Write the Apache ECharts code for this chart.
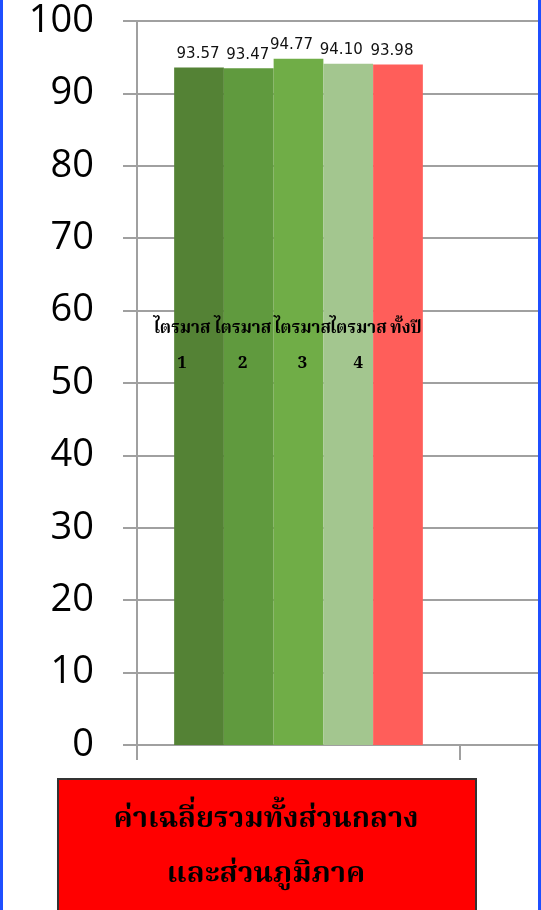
<!DOCTYPE html>
<html>
<head>
<meta charset="utf-8">
<style>
  html, body { margin: 0; padding: 0; background: #fff; }
  #chart { width: 541px; height: 910px; }
</style>
<script src="https://cdn.jsdelivr.net/npm/echarts@6/dist/echarts.min.js"></script>
</head>
<body>
<div id="chart"></div>
<script>
// ---- data ----
const categories = ['ค่าเฉลี่ยรวม', ''];
const seriesNames = ['ไตรมาส\n1', 'ไตรมาส\n2', 'ไตรมาส\n3', 'ไตรมาส\n4', 'ทั้งปี'];
const seriesValues = [93.57, 93.47, 94.77, 94.10, 93.98];
const yTicks = [0, 10, 20, 30, 40, 50, 60, 70, 80, 90, 100];
const boxTitle = 'ค่าเฉลี่ยรวมทั้งส่วนกลาง\nและส่วนภูมิภาค';

// ---- style ----
const colors = ['#548235', '#609a3e', '#70ad47', '#a3c68f', '#ff5e5a'];
const nameOffsets = [[-17, 0], [-6, 0], [4, 0], [10, 0], [8, 0]];
const valueOffsets = [[-1, 0], [-1, 0], [-7, 0], [-7, 0], [-6, 0]];
const nameAnchorValue = 60;
const thaiFont = '"Noto Serif Thai", "Noto Sans Thai", "Tlwg Typo", "Garuda", serif';

const chart = echarts.init(document.getElementById('chart'), null, { renderer: 'canvas' });

const series = seriesValues.map((v, i) => ({
  name: seriesNames[i],
  type: 'bar',
  data: [v, null],
  barGap: '0%',
  barCategoryGap: '23%',
  itemStyle: { color: colors[i] },
  label: {
    show: true,
    position: 'top',
    distance: 6,
    offset: valueOffsets[i],
    formatter: p => p.value.toFixed(2),
    color: '#111',
    fontFamily: '"DejaVu Sans", sans-serif',
    fontSize: 15
  },
  markPoint: {
    symbol: 'circle',
    symbolSize: 0,
    silent: true,
    data: [{ coord: [0, nameAnchorValue], value: seriesNames[i] }],
    label: {
      show: true,
      position: 'inside',
      verticalAlign: 'top',
      offset: [nameOffsets[i][0], 2],
      formatter: () => seriesNames[i],
      color: '#000',
      fontFamily: thaiFont,
      fontWeight: 'bold',
      fontSize: 17,
      lineHeight: 35
    }
  }
}));

chart.setOption({
  animation: false,
  backgroundColor: '#fff',
  grid: {
    left: 137,
    top: 21,
    bottom: 165,
    right: -242,
    containLabel: false,
    outerBoundsMode: 'none'
  },
  xAxis: {
    type: 'category',
    data: categories,
    axisLine: { show: true, lineStyle: { color: '#a0a0a0', width: 2 } },
    axisTick: { show: true, length: 15, lineStyle: { color: '#a0a0a0', width: 2 } },
    axisLabel: { show: false },
    splitLine: { show: false }
  },
  yAxis: {
    type: 'value',
    min: yTicks[0],
    max: yTicks[yTicks.length - 1],
    interval: yTicks[1] - yTicks[0],
    axisLine: { show: true, lineStyle: { color: '#a0a0a0', width: 2 } },
    axisTick: { show: true, length: 14, lineStyle: { color: '#a0a0a0', width: 2 } },
    axisLabel: {
      margin: 43,
      color: '#000',
      fontFamily: '"Open Sans", sans-serif',
      fontSize: 38
    },
    splitLine: { show: true, lineStyle: { color: '#a0a0a0', width: 2 } }
  },
  series: series,
  graphic: [
    {
      type: 'rect',
      shape: { x: 58, y: 779, width: 418, height: 140 },
      style: { fill: '#ff0000', stroke: '#333', lineWidth: 2 },
      z: 10
    },
    {
      type: 'text',
      x: 266,
      y: 795,
      style: {
        text: boxTitle,
        fill: '#000',
        font: 'bold 29px ' + thaiFont,
        lineHeight: 55,
        align: 'center',
        verticalAlign: 'top'
      },
      z: 11
    },
    {
      type: 'rect',
      shape: { x: 0, y: 0, width: 3, height: 910 },
      style: { fill: '#1f4fff' },
      z: 20
    },
    {
      type: 'rect',
      shape: { x: 538, y: 0, width: 3, height: 910 },
      style: { fill: '#1f4fff' },
      z: 20
    }
  ]
});
</script>
</body>
</html>
